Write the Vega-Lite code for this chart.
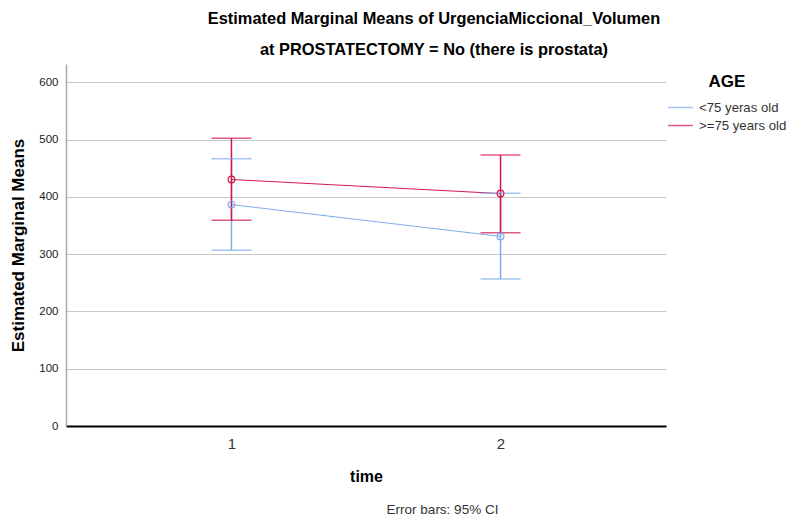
{
  "$schema": "https://vega.github.io/schema/vega-lite/v6.json",
  "width": 600,
  "height": 362,
  "padding": {"left": 9, "top": 10, "right": 5, "bottom": 5},
  "background": "white",
  "config": {
    "font": "Liberation Sans",
    "view": {"stroke": null},
    "axis": {"labelFont": "Liberation Sans", "titleFont": "Liberation Sans"},
    "legend": {"labelFont": "Liberation Sans", "titleFont": "Liberation Sans"}
  },
  "title": {
    "text": ["Estimated Marginal Means of UrgenciaMiccional_Volumen", "at PROSTATECTOMY = No (there is prostata)"],
    "fontSize": 16.4,
    "fontWeight": "bold",
    "color": "#000000",
    "lineHeight": 31,
    "offset": 6,
    "dx": 68,
    "anchor": "middle"
  },
  "data": {
    "values": [
      {"time": "1", "AGE": "<75 yeras old", "mean": 386.5, "lo": 307, "hi": 466.7},
      {"time": "2", "AGE": "<75 yeras old", "mean": 331, "lo": 256.7, "hi": 406.4},
      {"time": "1", "AGE": ">=75 years old", "mean": 430.4, "lo": 359, "hi": 502.3},
      {"time": "2", "AGE": ">=75 years old", "mean": 405.8, "lo": 337.4, "hi": 473}
    ]
  },
  "layer": [
    {
      "encoding": {
        "x": {
          "field": "time",
          "type": "ordinal",
          "scale": {"type": "point", "padding": 0.615},
          "axis": {
            "title": "time",
            "labelAngle": 0,
            "labelFontSize": 15,
            "labelColor": "#333333",
            "labelPadding": 10,
            "ticks": false,
            "domainColor": "#000000",
            "domainWidth": 2,
            "titleFontSize": 16,
            "titleFontWeight": "bold",
            "titleColor": "#000000",
            "titlePadding": 17,
            "grid": false
          }
        },
        "color": {
          "field": "AGE",
          "type": "nominal",
          "scale": {"domain": ["<75 yeras old", ">=75 years old"], "range": ["#7eaceb", "#d4174a"]},
          "legend": {
            "title": "AGE",
            "orient": "none",
            "legendX": 601,
            "legendY": 10,
            "symbolType": "stroke",
            "symbolSize": 625,
            "symbolStrokeWidth": 1.5,
            "clipHeight": 13,
            "labelFontSize": 13.2,
            "labelColor": "#333333",
            "labelOffset": 5,
            "rowPadding": 4,
            "titleFontSize": 17,
            "titleFontWeight": "bold",
            "titleColor": "#000000",
            "titleAnchor": "middle",
            "titlePadding": 10
          }
        }
      },
      "layer": [
        {
          "mark": {"type": "line", "strokeWidth": 1},
          "encoding": {
            "y": {
              "field": "mean",
              "type": "quantitative",
              "scale": {"domain": [0, 632], "nice": false},
              "axis": {
                "title": "Estimated Marginal Means",
                "values": [0, 100, 200, 300, 400, 500, 600],
                "labelFontSize": 11.5,
                "labelColor": "#222222",
                "labelPadding": 8,
                "ticks": false,
                "domainColor": "#aaaaaa",
                "domainWidth": 1.5,
                "gridColor": "#c8c8c8",
                "gridWidth": 1,
                "titleFontSize": 17,
                "titleFontWeight": "bold",
                "titleColor": "#000000",
                "titlePadding": 11
              }
            }
          }
        },
        {
          "mark": {"type": "rule", "strokeWidth": 1.5},
          "encoding": {
            "y": {"field": "lo", "type": "quantitative"},
            "y2": {"field": "hi"}
          }
        },
        {
          "mark": {"type": "tick", "orient": "horizontal", "size": 40, "thickness": 1.5},
          "encoding": {"y": {"field": "lo", "type": "quantitative"}}
        },
        {
          "mark": {"type": "tick", "orient": "horizontal", "size": 40, "thickness": 1.5},
          "encoding": {"y": {"field": "hi", "type": "quantitative"}}
        },
        {
          "mark": {"type": "point", "filled": false, "size": 45, "strokeWidth": 1.2, "opacity": 1},
          "encoding": {"y": {"field": "mean", "type": "quantitative"}}
        }
      ]
    },
    {
      "mark": {"type": "point", "opacity": 0},
      "encoding": {
        "x": {
          "field": "time",
          "type": "ordinal",
          "scale": {"type": "point", "padding": 0.615},
          "axis": {
            "orient": "bottom",
            "offset": 76,
            "title": "Error bars: 95% CI",
            "titleFontSize": 13.5,
            "titleFontWeight": "normal",
            "titleColor": "#333333",
            "titlePadding": 0,
            "titleX": 376,
            "labels": false,
            "ticks": false,
            "domain": false,
            "grid": false
          }
        },
        "y": {"field": "mean", "type": "quantitative"}
      }
    }
  ],
  "resolve": {"scale": {"x": "independent"}, "axis": {"x": "independent"}}
}
